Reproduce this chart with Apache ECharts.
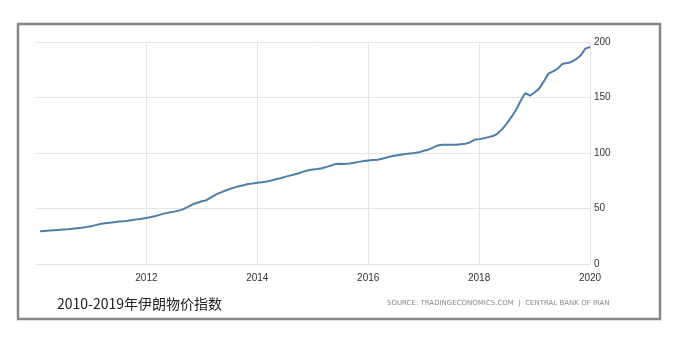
<!DOCTYPE html>
<html><head><meta charset="utf-8">
<script src="https://cdn.jsdelivr.net/npm/echarts@6/dist/echarts.min.js"></script>
<style>html,body{margin:0;padding:0;background:#fff}#c{width:688px;height:343px}</style>
</head><body><div id="c"></div>
<script>
const years = [2010,2011,2012,2013,2014,2015,2016,2017,2018,2019];
const values2010 = [29.5,29.8,30.1,30.4,30.7,31.0,31.3,31.7,32.2,32.7,33.3,34.0];
const values2011 = [35.0,36.0,36.7,37.2,37.7,38.2,38.5,39.0,39.6,40.2,40.8,41.5];
const values2012 = [42.3,43.3,44.5,45.6,46.4,47.2,48.1,49.4,51.5,53.8,55.2,56.5];
const values2013 = [57.5,60.0,62.5,64.3,66.0,67.5,68.8,70.0,71.0,72.0,72.5,73.2];
const values2014 = [73.7,74.4,75.3,76.3,77.3,78.5,79.6,80.6,81.8,83.2,84.5,85.2];
const values2015 = [85.5,86.3,87.5,88.8,90.2,90.4,90.2,90.6,91.3,92.0,92.8,93.2];
const values2016 = [93.6,94.0,94.8,96.0,97.0,97.8,98.5,99.0,99.6,99.9,100.6,102.0];
const values2017 = [103.0,104.8,106.8,107.4,107.5,107.4,107.5,107.8,108.4,109.5,111.9,112.5];
const values2018 = [113.2,114.3,115.3,117.5,121.5,126.5,132.5,139.0,147.0,154.0,151.6,154.5];
const values2019 = [158.0,164.5,171.5,173.5,176.0,180.2,181.0,182.0,184.5,188.0,194.0,195.5];
const yTicks = [0,50,100,150,200];
const xTicks = [2012,2014,2016,2018,2020];
const title = '2010-2019年伊朗物价指数';
const source = 'SOURCE: TRADINGECONOMICS.COM  |  CENTRAL BANK OF IRAN';

const allValues = [values2010,values2011,values2012,values2013,values2014,values2015,values2016,values2017,values2018,values2019];
const data = [];
years.forEach((y, i) => {
  allValues[i].forEach((v, m) => { data.push([y + (m + 1) / 12, v]); });
});

const chart = echarts.init(document.getElementById('c'), null, {renderer: 'canvas'});
chart.setOption({
  animation: false,
  backgroundColor: '#fff',
  grid: {left: 35.5, right: 98, top: 42, bottom: 79},
  xAxis: {
    type: 'value', min: 2010, max: 2020, interval: 2,
    axisLine: {show: false}, axisTick: {show: false},
    axisLabel: {
      color: '#333', fontSize: 10, fontFamily: 'Liberation Sans Narrow, Arial', margin: 9,
      showMinLabel: false,
      formatter: v => xTicks.includes(v) ? String(v) : ''
    },
    splitLine: {show: true, showMinLine: false, lineStyle: {color: '#e4e4e4', width: 1}}
  },
  yAxis: {
    type: 'value', position: 'right', min: 0, max: 200, interval: 50,
    axisLine: {show: false}, axisTick: {show: false},
    axisLabel: {color: '#333', fontSize: 10, fontFamily: 'Liberation Sans Narrow, Arial', margin: 4,
      formatter: v => yTicks.includes(v) ? String(v) : ''},
    splitLine: {show: true, lineStyle: {color: '#e4e4e4', width: 1}}
  },
  series: [{
    type: 'line', data: data, showSymbol: false, smooth: false,
    lineStyle: {color: '#4f7ea8', width: 2}
  }],
  graphic: [
    {type: 'rect', shape: {x: 18, y: 24, width: 642, height: 295},
     style: {fill: 'none', stroke: '#868686', lineWidth: 2.5}, silent: true},
    {type: 'text', left: 57, top: 297,
     style: {text: title, fill: '#222', font: '14px "Noto Sans CJK SC", sans-serif'}},
    {type: 'text', left: 387, top: 300,
     style: {text: source, fill: '#8a8a8a', font: '7px "DejaVu Sans", sans-serif'}}
  ]
});
</script></body></html>
